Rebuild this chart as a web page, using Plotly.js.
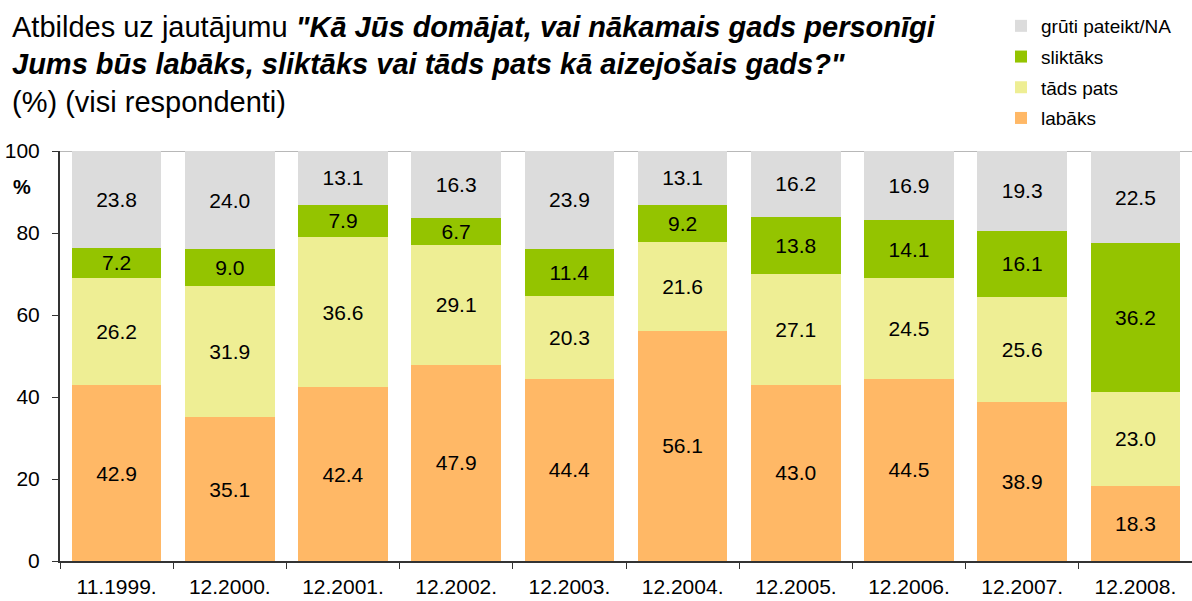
<!DOCTYPE html>
<html>
<head>
<meta charset="utf-8">
<script src="https://cdn.plot.ly/plotly-3.0.1.min.js"></script>
<style>
  html, body { margin: 0; padding: 0; background: #ffffff; }
  #chart { width: 1192px; height: 601px; }
</style>
</head>
<body>
<div id="chart"></div>
<script>
const categories = ['11.1999.', '12.2000.', '12.2001.', '12.2002.', '12.2003.', '12.2004.', '12.2005.', '12.2006.', '12.2007.', '12.2008.'];
const seriesNames = ['labāks', 'tāds pats', 'sliktāks', 'grūti pateikt/NA'];
const labaks = [42.9, 35.1, 42.4, 47.9, 44.4, 56.1, 43.0, 44.5, 38.9, 18.3];
const tadsPats = [26.2, 31.9, 36.6, 29.1, 20.3, 21.6, 27.1, 24.5, 25.6, 23.0];
const sliktaks = [7.2, 9.0, 7.9, 6.7, 11.4, 9.2, 13.8, 14.1, 16.1, 36.2];
const gruti = [23.8, 24.0, 13.1, 16.3, 23.9, 13.1, 16.2, 16.9, 19.3, 22.5];
const yTicks = [0, 20, 40, 60, 80, 100];
const titleLines = [
  'Atbildes uz jautājumu <b><i>"Kā Jūs domājat, vai nākamais gads personīgi</i></b>',
  '<b><i>Jums būs labāks, sliktāks vai tāds pats kā aizejošais gads?"</i></b>',
  '(%) (visi respondenti)'
];

const seriesValues = [labaks, tadsPats, sliktaks, gruti];
const seriesColors = ['#FFB866', '#EEEE94', '#94C400', '#DCDCDC'];
const FONT = 'Liberation Sans, Arial, sans-serif';

// pixel helpers for layout placement (plot area: x 60..1192, y 151..561)
const PL = 60, PW = 1132, PT = 151, PH = 410;
const px2paperX = p => (p - PL) / PW;
const px2paperY = p => (PT + PH - p) / PH;

const traces = seriesValues.map((vals, i) => ({
  type: 'bar',
  name: seriesNames[i],
  legendgroup: 'g' + i,
  legendrank: 1000 - i,
  x: categories,
  y: vals,
  text: vals.map(v => v.toFixed(1)),
  textposition: 'inside',
  insidetextanchor: 'middle',
  textangle: 0,
  textfont: { family: FONT, size: 21, color: '#000000' },
  marker: { color: seriesColors[i], line: { width: 0 } },
  hoverinfo: 'x+y+name'
}));

const titleY = [27, 64, 102];
const annotations = titleLines.map((t, i) => ({
  text: t, xref: 'paper', yref: 'paper',
  x: px2paperX(10), y: px2paperY(titleY[i]),
  xanchor: 'left', yanchor: 'middle', showarrow: false, align: 'left',
  font: { family: FONT, size: 29, color: '#000000' }
}));
annotations.push({
  text: '<b>%</b>', xref: 'paper', yref: 'y', x: px2paperX(22), y: 91.2, showarrow: false,
  font: { family: FONT, size: 20, color: '#000000' }, xanchor: 'center', yanchor: 'middle'
});

const layout = {
  width: 1192,
  height: 601,
  paper_bgcolor: '#ffffff',
  plot_bgcolor: '#ffffff',
  barmode: 'stack',
  bargap: 0.21,
  uniformtext: { mode: 'show', minsize: 21 },
  margin: { l: 60, r: 0, t: 151, b: 40, pad: 0, autoexpand: false },
  font: { family: FONT, color: '#000000' },
  showlegend: true,
  legend: {
    traceorder: 'grouped',
    xref: 'paper',
    yref: 'paper',
    x: px2paperX(1001),
    xanchor: 'left',
    y: px2paperY(7),
    yanchor: 'top',
    font: { family: FONT, size: 19, color: '#000000' },
    tracegroupgap: 3,
    bgcolor: 'rgba(0,0,0,0)',
    itemwidth: 30
  },
  xaxis: {
    type: 'category',
    range: [-0.5, 9.5],
    showline: true,
    linecolor: '#333333',
    linewidth: 2,
    ticks: 'outside',
    tickson: 'boundaries',
    ticklen: 6,
    tickcolor: '#333333',
    tickwidth: 1,
    tickfont: { family: FONT, size: 21, color: '#000000' },
    ticklabelstandoff: 6,
    showgrid: false,
    zeroline: false,
    fixedrange: true
  },
  yaxis: {
    range: [0, 100],
    tickvals: yTicks,
    ticktext: yTicks.map(String),
    showline: true,
    linecolor: '#333333',
    linewidth: 2,
    ticks: 'outside',
    ticklen: 6,
    tickcolor: '#333333',
    tickwidth: 1,
    tickfont: { family: FONT, size: 21, color: '#000000' },
    ticklabelstandoff: 8,
    showgrid: false,
    zeroline: false,
    fixedrange: true
  },
  shapes: [
    { type: 'line', xref: 'paper', yref: 'y', x0: 0, x1: 1, y0: 100, y1: 100,
      line: { color: '#A0A0A0', width: 1.5 }, layer: 'below' }
  ],
  annotations: annotations
};

Plotly.newPlot('chart', traces, layout, { displayModeBar: false, staticPlot: true });
</script>
</body>
</html>
